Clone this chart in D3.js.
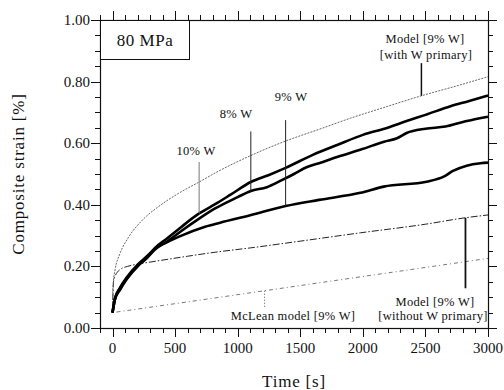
<!DOCTYPE html>
<html><head><meta charset="utf-8">
<script src="https://cdn.jsdelivr.net/npm/d3@7"></script>
<style>body{margin:0;background:#fff}svg{display:block}text{font-family:"Liberation Serif","Times New Roman",serif;fill:#111}</style>
</head><body><svg id="c" width="504" height="390"></svg>
<script>
// ---- data (time [s], composite strain [%]) ----
const xMajorTicks = [0, 500, 1000, 1500, 2000, 2500, 3000];
const yMajorTicks = [0.0, 0.2, 0.4, 0.6, 0.8, 1.0];
const yTickLabels = ["0.00", "0.20", "0.40", "0.60", "0.80", "1.00"];

const w10 = [[0,0.05],[20,0.095],[60,0.128],[113,0.16],[207,0.205],[273,0.228],[340,0.26],[433,0.29],[540,0.325],[692,0.372],[820,0.402],[940,0.432],[1105,0.474],[1250,0.497],[1383,0.52],[1600,0.562],[1800,0.595],[2000,0.627],[2180,0.648],[2350,0.672],[2500,0.692],[2700,0.72],[2850,0.737],[3000,0.755]];
const w8 = [[0,0.05],[20,0.093],[60,0.124],[113,0.158],[207,0.203],[273,0.226],[340,0.255],[433,0.28],[550,0.315],[692,0.355],[820,0.388],[1000,0.425],[1105,0.445],[1233,0.457],[1353,0.48],[1450,0.5],[1550,0.522],[1650,0.535],[1800,0.556],[1990,0.58],[2170,0.605],[2273,0.616],[2350,0.633],[2500,0.647],[2660,0.654],[2820,0.671],[3000,0.686]];
const w9 = [[0,0.05],[20,0.097],[60,0.131],[113,0.164],[207,0.208],[273,0.232],[340,0.258],[433,0.278],[527,0.296],[740,0.329],[860,0.342],[1100,0.366],[1383,0.396],[1650,0.416],[1980,0.439],[2167,0.459],[2510,0.475],[2650,0.492],[2720,0.51],[2830,0.527],[2940,0.535],[3000,0.537]];
const modelWith = [[0,0.05],[2,0.11],[7,0.15],[20,0.188],[60,0.242],[127,0.294],[233,0.348],[367,0.394],[527,0.437],[692,0.474],[860,0.512],[1105,0.56],[1383,0.607],[1650,0.645],[1900,0.681],[2200,0.72],[2468,0.754],[2750,0.786],[3000,0.816]];
const modelWithout = [[0,0.05],[3,0.1],[8,0.15],[20,0.168],[40,0.182],[73,0.193],[120,0.2],[207,0.208],[300,0.214],[600,0.233],[820,0.246],[1100,0.26],[1500,0.282],[1980,0.309],[2500,0.337],[2820,0.358],[3000,0.367]];
const mcLean = [[0,0.05],[860,0.1],[1215,0.121],[1980,0.166],[3000,0.226]];

const svg = d3.select("#c");
const L = 100, R = 488, T = 20, B = 328;
const x = d3.scaleLinear().domain([-100, 3000]).range([L, R]);
const y = d3.scaleLinear().domain([0, 1]).range([B, T]);

// ---- axes / frame ----
const xMinor = d3.range(-100, 3001, 100);
const yMinor = d3.range(0, 1.0001, 0.05);
const g = svg.append("g").attr("stroke", "#111").attr("stroke-width", 1);
function tk(x1, y1, x2, y2) { g.append("line").attr("x1", x1).attr("y1", y1).attr("x2", x2).attr("y2", y2); }
xMinor.forEach(v => {
  const major = xMajorTicks.includes(v);
  const len = major ? 9 : 5, px = Math.round(x(v)) + 0.5;
  tk(px, B, px, B + len); tk(px, T, px, T - len);
});
yMinor.forEach(v => {
  const major = Math.abs(v * 5 - Math.round(v * 5)) < 1e-6;
  const len = major ? 9 : 5, py = Math.round(y(v)) + 0.5;
  tk(L, py, L - len, py); tk(R, py, R + len, py);
});
svg.append("rect").attr("x", L + 0.5).attr("y", T + 0.5).attr("width", R - L).attr("height", B - T)
  .attr("fill", "none").attr("stroke", "#111").attr("stroke-width", 1.2);

svg.append("g").selectAll("text").data(xMajorTicks).join("text")
  .attr("x", d => x(d)).attr("y", B + 25).attr("text-anchor", "middle")
  .attr("font-size", 15).text(d => d);
svg.append("g").selectAll("text").data(yMajorTicks).join("text")
  .attr("x", L - 10).attr("y", d => y(d) + 5).attr("text-anchor", "end")
  .attr("font-size", 15).text((d, i) => yTickLabels[i]);

svg.append("text").attr("x", (L + R) / 2).attr("y", 387).attr("text-anchor", "middle")
  .attr("font-size", 17).attr("letter-spacing", 0.8).text("Time [s]");
svg.append("text").attr("transform", "translate(24,174) rotate(-90)").attr("text-anchor", "middle")
  .attr("font-size", 17).attr("letter-spacing", 0.8).text("Composite strain [%]");

// ---- 80 MPa box ----
svg.append("rect").attr("x", L + 0.5).attr("y", T + 0.5).attr("width", 89).attr("height", 39)
  .attr("fill", "#fff").attr("stroke", "#111").attr("stroke-width", 1);
svg.append("text").attr("x", 145).attr("y", 46).attr("text-anchor", "middle")
  .attr("font-size", 17).attr("letter-spacing", 0.5).text("80 MPa");

// ---- curves ----
const line = d3.line().x(d => x(d[0])).y(d => y(d[1])).curve(d3.curveMonotoneX);
const cg = svg.append("g").attr("fill", "none");
cg.append("path").datum(mcLean).attr("d", line).attr("stroke", "#777").attr("stroke-width", 1).attr("stroke-dasharray", "1,3,4,3");
cg.append("path").datum(modelWithout).attr("d", line).attr("stroke", "#222").attr("stroke-width", 1).attr("stroke-dasharray", "7,2,1.5,2");
cg.append("path").datum(modelWith).attr("d", line).attr("stroke", "#555").attr("stroke-width", 0.9).attr("stroke-dasharray", "2,1.2");
[w9, w8, w10].forEach(s => cg.append("path").datum(s).attr("d", line).attr("stroke", "#000").attr("stroke-width", 2.6).attr("stroke-linejoin", "round"));

// ---- annotations ----
const ag = svg.append("g");
function pointer(t, v0, v1, color, width, dash) {
  ag.append("line").attr("x1", x(t)).attr("x2", x(t)).attr("y1", y(v0)).attr("y2", y(v1))
    .attr("stroke", color).attr("stroke-width", width).attr("stroke-dasharray", dash || null);
}
function label(px, py, txt, anchor) {
  ag.append("text").attr("x", px).attr("y", py).attr("text-anchor", anchor || "middle")
    .attr("font-size", 12.5).attr("letter-spacing", 0.3).text(txt);
}
pointer(692, 0.539, 0.372, "#777", 1);
label(196, 155, "10% W");
pointer(1105, 0.638, 0.445, "#222", 1);
label(236, 118, "8% W");
pointer(1383, 0.675, 0.396, "#222", 1);
label(291, 101, "9% W");
pointer(2468, 0.86, 0.754, "#111", 1.5);
label(425, 43, "Model [9% W]");
label(426, 59, "[with W primary]");
pointer(2820, 0.358, 0.129, "#111", 1.8);
label(435, 306, "Model [9% W]");
label(433, 320, "[without W primary]");
pointer(1215, 0.121, 0.065, "#555", 1, "1,2");
label(293, 320, "McLean model [9% W]");
</script></body></html>
